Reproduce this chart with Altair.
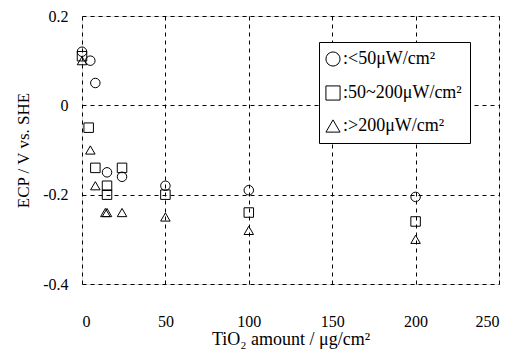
import altair as alt
import pandas as pd

series_names = [":<50μW/cm²", ":50~200μW/cm²", ":>200μW/cm²"]

low_x = [0, 5, 8, 15, 24, 50, 100, 200]
low_y = [0.12, 0.10, 0.05, -0.15, -0.16, -0.18, -0.19, -0.205]

mid_x = [0, 4, 8, 15, 15, 24, 50, 100, 200]
mid_y = [0.11, -0.05, -0.14, -0.18, -0.20, -0.14, -0.20, -0.24, -0.26]

high_x = [0, 5, 8, 14, 15, 24, 50, 100, 200]
high_y = [0.10, -0.10, -0.18, -0.24, -0.24, -0.24, -0.25, -0.28, -0.30]

x_ticks = [0, 50, 100, 150, 200, 250]
y_ticks = [-0.4, -0.2, 0, 0.2]

rows = []
for name, xs, ys in zip(series_names, [low_x, mid_x, high_x], [low_y, mid_y, high_y]):
    for a, b in zip(xs, ys):
        rows.append({"series": name, "x": a, "y": b})
df = pd.DataFrame(rows)

font = "Liberation Serif"

chart = alt.Chart(df).mark_point(filled=False, color="black", strokeWidth=1, size=90, opacity=1).encode(
    x=alt.X("x:Q", scale=alt.Scale(domain=[0, 250], nice=False),
            axis=alt.Axis(values=x_ticks, title="TiO₂ amount / μg/cm²",
                          grid=True, gridDash=[4, 4], gridColor="black", gridOpacity=1,
                          ticks=False, labelPadding=29, titlePadding=1, domain=False,
                          labelFont=font, labelFontSize=16, titleFont=font, titleFontSize=18,
                          titleFontWeight="normal", labelColor="black", titleColor="black")),
    y=alt.Y("y:Q", scale=alt.Scale(domain=[-0.4, 0.2], nice=False),
            axis=alt.Axis(values=y_ticks, title="ECP / V vs. SHE",
                          labelExpr="'' + datum.value",
                          grid=True, gridDash=[4, 4], gridColor="black", gridOpacity=1,
                          ticks=False, labelPadding=14, titlePadding=10, domain=False,
                          labelFont=font, labelFontSize=16, titleFont=font, titleFontSize=17,
                          titleFontWeight="normal", labelColor="black", titleColor="black")),
    shape=alt.Shape("series:N",
                    scale=alt.Scale(domain=series_names, range=["circle", "square", "triangle-up"]),
                    legend=alt.Legend(title=None, orient="none", legendX=237, legendY=26,
                                      strokeColor="black", fillColor="white", padding=8,
                                      symbolSize=200, symbolStrokeColor="black", symbolFillColor="white",
                                      symbolStrokeWidth=1, labelFont=font, labelFontSize=18,
                                      labelColor="black", rowPadding=14, symbolOffset=-3, labelOffset=1,
                                      cornerRadius=0, labelLimit=300)),
).properties(
    width=417, height=268,
    autosize=alt.AutoSizeParams(type="none"),
    padding={"left": 74, "top": 8, "right": 8, "bottom": 68},
).configure_view(stroke="black", strokeWidth=1.5).configure(background="white")

chart.save("out.html", embed_options={"renderer": "svg", "actions": False})
